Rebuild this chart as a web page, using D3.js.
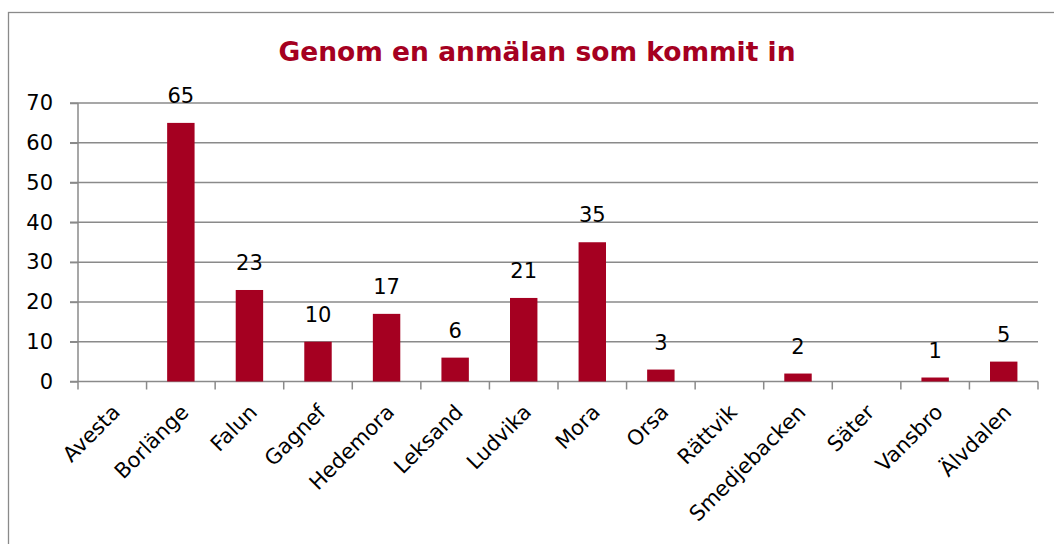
<!DOCTYPE html>
<html>
<head>
<meta charset="utf-8">
<script src="https://cdn.jsdelivr.net/npm/d3@7"></script>
<style>
  html, body { margin: 0; padding: 0; background: #fff; }
  svg { display: block; }
  text { font-family: "DejaVu Sans", sans-serif; }
</style>
</head>
<body>
<svg id="chart"></svg>
<script>
// Diagram: anmälningar per kommun
const title = "Genom en anmälan som kommit in";
const kommuner = ["Avesta", "Borlänge", "Falun", "Gagnef", "Hedemora", "Leksand", "Ludvika",
    "Mora", "Orsa", "Rättvik", "Smedjebacken", "Säter", "Vansbro", "Älvdalen"];
const antal = [0, 65, 23, 10, 17, 6, 21, 35, 3, 0, 2, 0, 1, 5];
const yTicks = [0, 10, 20, 30, 40, 50, 60, 70];

const width = 1054, height = 544;
const margin = { left: 78, right: 16, top: 103, bottom: 162.5 };
const red = "#a50021";
const grey = "#8a8a8a";
const fs = 21;

const svg = d3.select("#chart").attr("width", width).attr("height", height);

// ram runt diagrammet
svg.append("rect")
    .attr("x", 8.5).attr("y", 12.5)
    .attr("width", width + 10).attr("height", height + 10)
    .attr("fill", "none").attr("stroke", grey).attr("stroke-width", 1.3);

const x = d3.scaleBand()
    .domain(kommuner)
    .range([margin.left, width - margin.right])
    .paddingInner(0.6)
    .paddingOuter(0.3);

const y = d3.scaleLinear()
    .domain([0, 70])
    .range([height - margin.bottom, margin.top]);

// stödlinjer
svg.append("g")
    .selectAll("line")
    .data(yTicks)
    .enter()
    .append("line")
    .attr("x1", margin.left - 8).attr("x2", width - margin.right)
    .attr("y1", d => y(d)).attr("y2", d => y(d))
    .attr("stroke", grey).attr("stroke-width", 1.5);

// y-axel
const yAxis = svg.append("g")
    .attr("transform", `translate(${margin.left},0)`)
    .call(d3.axisLeft(y).tickValues(yTicks).tickSize(8).tickPadding(17));
yAxis.select(".domain").attr("stroke", grey).attr("stroke-width", 1.5)
    .attr("d", `M0,${y(0)}V${y(70)}`);
yAxis.selectAll(".tick line").attr("stroke", grey).attr("stroke-width", 1.5);
yAxis.selectAll(".tick text").attr("font-size", fs).attr("fill", "#000")
    .attr("font-family", "DejaVu Sans");

// x-axel med streck mellan kategorierna
const step = x.step();
const xEdges = d3.range(kommuner.length + 1).map(i => margin.left + i * step);
svg.append("g")
    .selectAll("line")
    .data(xEdges)
    .enter()
    .append("line")
    .attr("x1", d => d).attr("x2", d => d)
    .attr("y1", y(0)).attr("y2", y(0) + 8)
    .attr("stroke", grey).attr("stroke-width", 1.5);

svg.append("g")
    .selectAll("text")
    .data(kommuner)
    .enter()
    .append("text")
    .attr("transform", d => `translate(${x(d) + x.bandwidth() / 2 + 9},${y(0) + 32}) rotate(-45)`)
    .attr("text-anchor", "end")
    .attr("font-size", fs)
    .attr("fill", "#000")
    .text(d => d);

// staplar
svg.append("g")
    .selectAll("rect")
    .data(antal)
    .enter()
    .append("rect")
    .attr("x", (d, i) => x(kommuner[i]))
    .attr("y", d => y(d))
    .attr("width", x.bandwidth())
    .attr("height", d => y(0) - y(d))
    .attr("fill", red);

// värdeetiketter
svg.append("g")
    .selectAll("text")
    .data(kommuner.map((k, i) => ({ k, v: antal[i] })).filter(d => d.v > 0))
    .enter()
    .append("text")
    .attr("x", d => x(d.k) + x.bandwidth() / 2)
    .attr("y", d => y(d.v) - 20)
    .attr("text-anchor", "middle")
    .attr("font-size", fs)
    .attr("fill", "#000")
    .text(d => d.v);

// rubrik
svg.append("text")
    .attr("x", 537).attr("y", 61)
    .attr("text-anchor", "middle")
    .attr("font-size", 26.5)
    .attr("font-weight", "bold")
    .attr("fill", red)
    .text(title);
</script>
</body>
</html>
